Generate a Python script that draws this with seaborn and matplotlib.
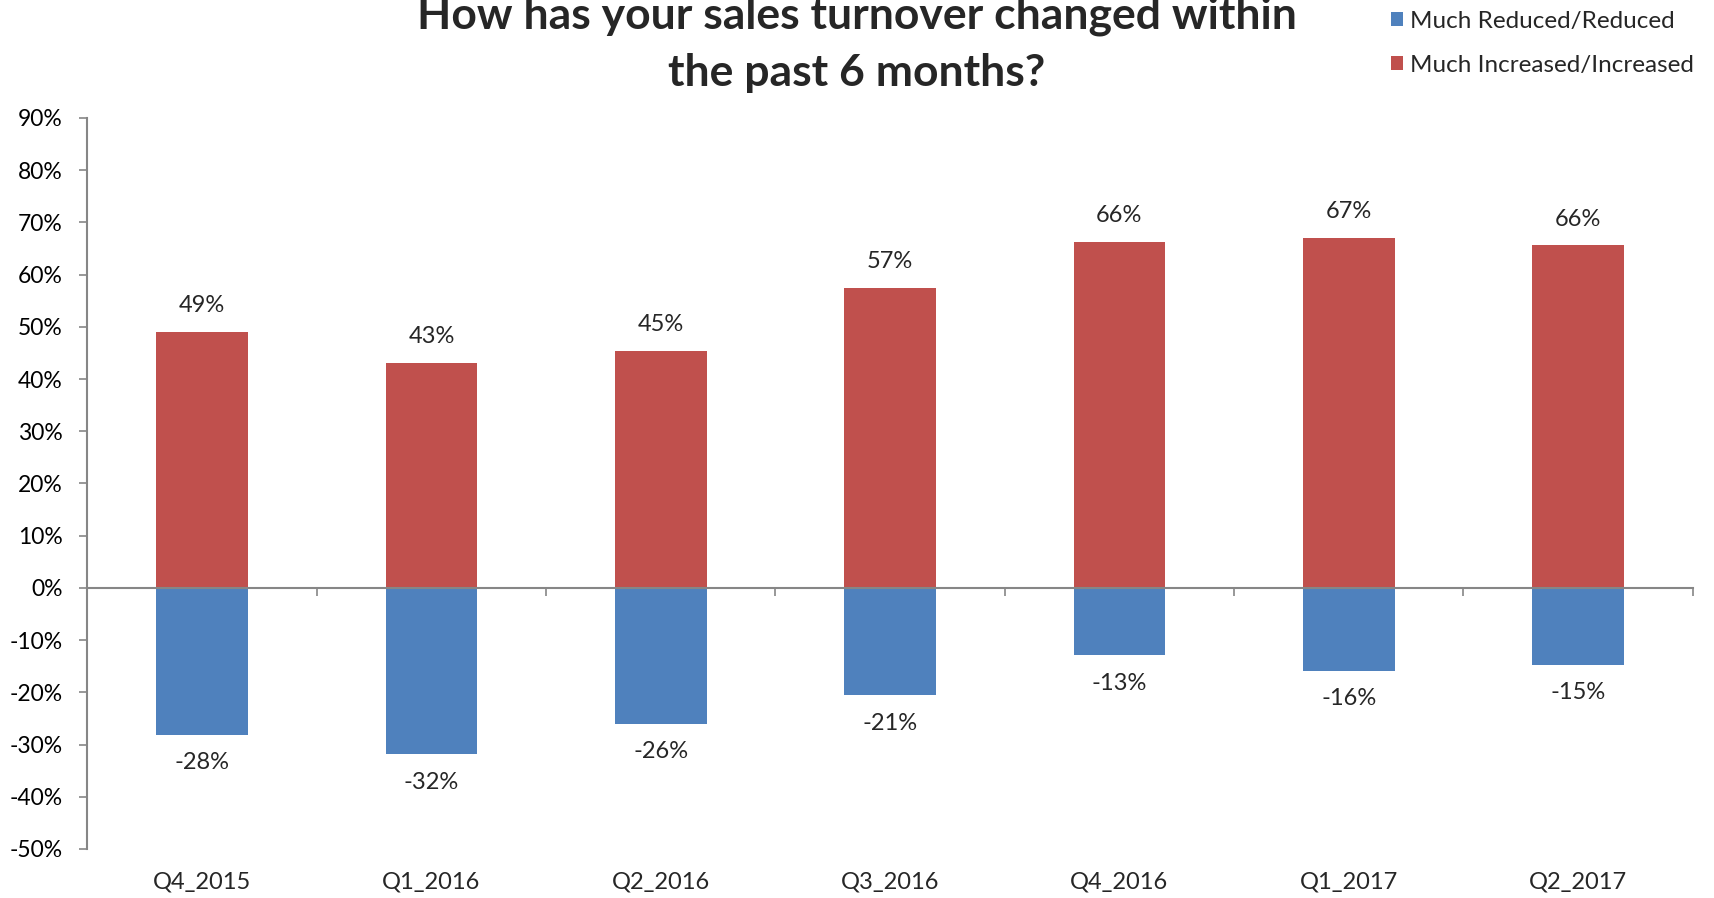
import numpy as np
import pandas as pd
import seaborn as sns
from matplotlib import pyplot as plt
from matplotlib.ticker import FixedLocator

quarters = ['Q4_2015', 'Q1_2016', 'Q2_2016', 'Q3_2016', 'Q4_2016', 'Q1_2017', 'Q2_2017']
increased = [49.0, 43.1, 45.3, 57.4, 66.2, 67.0, 65.6]
reduced = [-28.2, -31.9, -26.1, -20.6, -12.9, -15.9, -14.8]
series_names = ['Much Reduced/Reduced', 'Much Increased/Increased']
series_colors = ['#4F81BD', '#C0504D']
y_ticks = list(range(-50, 100, 10))
title = 'How has your sales turnover changed within\nthe past 6 months?'

sns.set_style('white')
plt.rcParams['font.family'] = ['Lato', 'DejaVu Sans']

df = pd.DataFrame({
    'quarter': quarters * 2,
    'value': reduced + increased,
    'series': [series_names[0]] * len(quarters) + [series_names[1]] * len(quarters),
})

fig = plt.figure(figsize=(17.15, 8.98), dpi=100)
ax = fig.add_axes([0.051, 0.0546, 0.936, 0.814])

sns.barplot(data=df, x='quarter', y='value', hue='series', hue_order=series_names,
            palette=series_colors, dodge=False, width=0.4, saturation=1,
            linewidth=0, ax=ax)

ax.set_xlim(-0.5, len(quarters) - 0.5)
ax.set_ylim(-50, 90)
ax.set_yticks(y_ticks)
ax.set_yticklabels(['{}%'.format(t) for t in y_ticks], fontsize=16.5)
ax.set_xlabel('')
ax.set_ylabel('')

axis_grey = '#868686'
for side in ['top', 'right']:
    ax.spines[side].set_visible(False)
ax.spines['left'].set_color(axis_grey)
ax.spines['left'].set_linewidth(1.5)
ax.spines['bottom'].set_color(axis_grey)
ax.spines['bottom'].set_linewidth(1.5)
ax.spines['bottom'].set_position(('data', 0))
ax.spines['bottom'].set_zorder(3)

ax.tick_params(axis='y', direction='out', length=6, width=1.2, color=axis_grey,
               pad=12, left=True, labelcolor='black')
# category boundary ticks on the zero line
ax.xaxis.set_minor_locator(FixedLocator(np.arange(0.5, len(quarters), 1.0)))
ax.tick_params(axis='x', which='minor', direction='out', length=6, width=1.2,
               color=axis_grey, bottom=True)
ax.tick_params(axis='x', which='major', length=0, labelbottom=False)

# category labels along the bottom edge
sec = ax.secondary_xaxis(0)
sec.set_xticks(range(len(quarters)))
sec.set_xticklabels(quarters, fontsize=17)
sec.tick_params(length=0, pad=16)
sec.spines['bottom'].set_visible(False)

for container in ax.containers:
    for bar in container:
        h = bar.get_height()
        if np.isnan(h) or h == 0:
            continue
        cx = bar.get_x() + bar.get_width() / 2
        off = 19 if h > 0 else -20
        ax.annotate('{:.0f}%'.format(h), (cx, h), xytext=(0, off),
                    textcoords='offset points', ha='center', va='center',
                    fontsize=17)

handles, labels = ax.get_legend_handles_labels()
ax.get_legend().remove()
fig.legend(handles, labels, loc='center left', bbox_to_anchor=(0.811, 0.952),
           frameon=False, fontsize=17.5, handlelength=0.5, handleheight=0.5,
           handletextpad=0.3, labelspacing=0.95, borderpad=0, borderaxespad=0)

fig.text(0.4994, 0.951, title, ha='center', va='center', fontsize=32,
         fontweight='bold', linespacing=1.5)

fig.savefig('out.png', dpi=100)
